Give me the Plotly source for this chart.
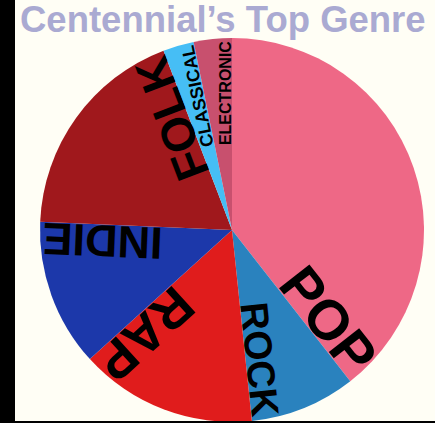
import math
import plotly.graph_objects as go

# ---- data ----
genres = ["POP", "ROCK", "RAP", "INDIE", "FOLK", "CLASSICAL", "ELECTRONIC"]
shares = [39.4, 8.9, 14.9, 12.4, 18.5, 2.6, 3.2]
colors = ["#ee6886", "#2a82be", "#e01c1c", "#1c38aa", "#a0181c", "#46bef5", "#c8506e"]
label_sizes = [56, 39, 52, 45, 47, 18, 16]
title_text = "Centennial’s Top Genre"

# ---- geometry ----
W, H = 435, 423
CX, CY, R = 232, 230, 192

# Arial/Liberation Sans Bold advance widths (per 1000 em)
ADV = {"P": 667, "O": 778, "R": 722, "C": 722, "K": 722, "A": 722, "I": 278,
       "N": 722, "D": 722, "E": 667, "F": 611, "L": 611, "S": 667, "T": 611}

fig = go.Figure(go.Pie(
    labels=genres, values=shares, sort=False, direction="clockwise", rotation=0,
    marker=dict(colors=colors, line=dict(width=0)),
    textinfo="none", hoverinfo="label+percent", showlegend=False,
    domain=dict(x=[(CX - R) / W, (CX + R) / W], y=[(H - CY - R) / H, (H - CY + R) / H]),
))

total = sum(shares)
cum = 0.0
annotations = []
for g, v, fs in zip(genres, shares, label_sizes):
    cum += v
    phi = 360.0 * cum / total  # end angle of slice, clockwise from 12 o'clock
    p = math.radians(phi)
    L = fs * sum(ADV[c] for c in g) / 1000.0
    rc = R * 0.985 - L / 2.0
    h = 0.36 * fs
    px = CX + rc * math.sin(p) - h * math.cos(p)
    py = CY - rc * math.cos(p) - h * math.sin(p)
    a = phi - 90
    if a > 180:
        a -= 360
    annotations.append(dict(
        x=px / W, y=1 - py / H, xref="paper", yref="paper",
        xanchor="center", yanchor="middle", showarrow=False, textangle=a,
        text=g, font=dict(family="Liberation Sans", size=fs, color="black", weight="bold"),
    ))

fig.update_layout(
    width=W, height=H,
    margin=dict(l=0, r=0, t=0, b=0),
    paper_bgcolor="#fffef5",
    title=dict(text=title_text, x=20 / W, xanchor="left", xref="container",
               y=1 - 19 / H, yanchor="middle", yref="container",
               font=dict(family="Liberation Sans", size=36.5, color="#aaaad2", weight="bold")),
    annotations=annotations,
    shapes=[
        dict(type="rect", xref="paper", yref="paper", x0=0, x1=15 / W, y0=0, y1=1,
             fillcolor="black", line=dict(width=0), layer="above"),
        dict(type="rect", xref="paper", yref="paper", x0=0, x1=1, y0=0, y1=2 / H,
             fillcolor="black", line=dict(width=0), layer="above"),
    ],
)

fig.write_html("out.html", config={"displayModeBar": False},
               post_script="document.body.style.margin='0';document.body.style.overflow='hidden';")
